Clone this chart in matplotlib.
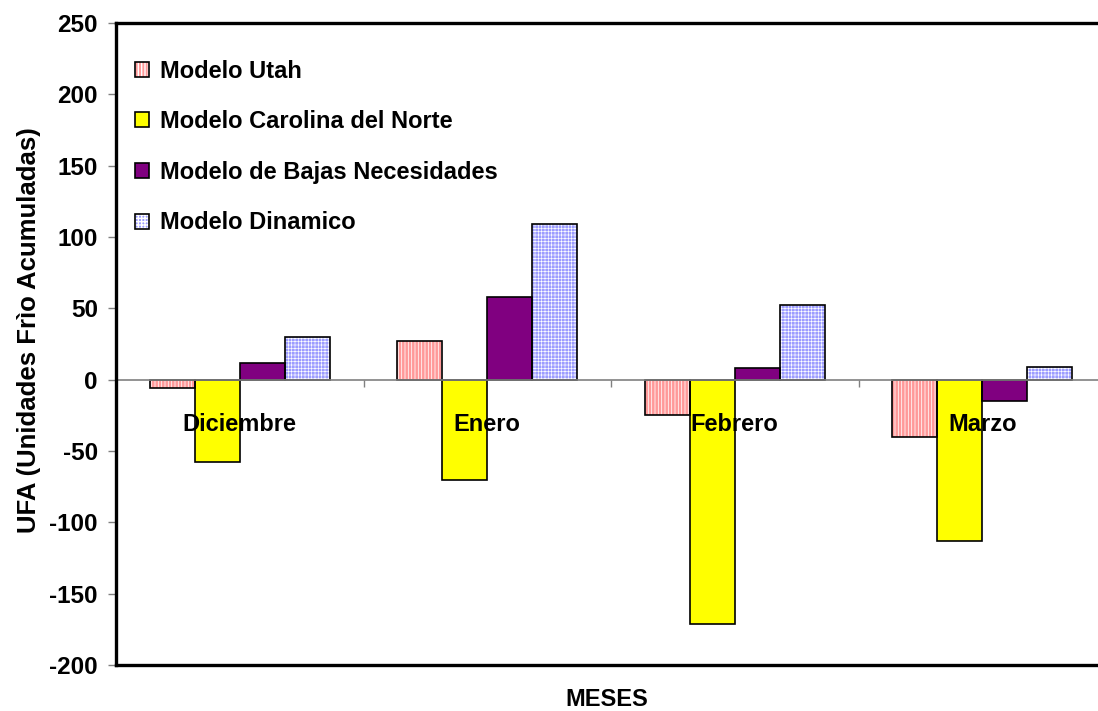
import numpy as np
import matplotlib
matplotlib.use("Agg")
from matplotlib import pyplot as plt
from matplotlib.legend_handler import HandlerTuple

plt.rcParams['font.family'] = ['Liberation Sans', 'DejaVu Sans']
plt.rcParams['font.weight'] = 'bold'
plt.rcParams['axes.unicode_minus'] = False

meses = ['Diciembre', 'Enero', 'Febrero', 'Marzo']
modelos = ['Modelo Utah', 'Modelo Carolina del Norte',
           'Modelo de Bajas Necesidades', 'Modelo Dinamico']
utah = [-6, 27, -25, -40]
carolina = [-58, -70, -171, -113]
bajas = [12, 58, 8, -15]
dinamico = [30, 109, 52, 9]
yticks = [-200, -150, -100, -50, 0, 50, 100, 150, 200, 250]

series = [utah, carolina, bajas, dinamico]
# face colour, hatch, hatch colour, hatch line width
estilos = [('#FF9999', '|||||', 'white', 0.55),
           ('#FFFF00', None, None, 1.0),
           ('#800080', None, None, 1.0),
           ('#9C9CFF', '+++++', 'white', 0.45)]

fig = plt.figure(figsize=(10.98, 7.11), dpi=100)
ax = fig.add_axes([116/1098, 46/711, 990/1098, 642/711])

x = np.arange(len(meses))
w = 0.182
handles = []
for i, (vals, (fc, hatch, hc, hlw)) in enumerate(zip(series, estilos)):
    pos = x + (i - 1.5) * w
    with plt.rc_context({'hatch.linewidth': hlw}):
        if hatch:
            fill = ax.bar(pos, vals, w, color=fc, edgecolor=hc, hatch=hatch,
                          linewidth=0, zorder=1)
        else:
            fill = ax.bar(pos, vals, w, color=fc, linewidth=0, zorder=1)
    edge = ax.bar(pos, vals, w, facecolor='none', edgecolor='black',
                  linewidth=1.2, zorder=1.2)
    handles.append((fill, edge))

ax.set_xlim(-0.5, 3.5)
ax.set_ylim(-200, 250)
ax.set_yticks(yticks)
ax.tick_params(axis='y', length=6, width=1, color='#808080', pad=7, labelsize=17.5)

# category axis crosses at zero
ax.spines['bottom'].set_position(('data', 0))
ax.spines['bottom'].set_color('#808080')
ax.spines['bottom'].set_linewidth(1.2)
ax.spines['bottom'].set_zorder(1.5)
ax.spines['right'].set_visible(False)
ax.spines['left'].set_linewidth(2.4)
ax.spines['top'].set_linewidth(2.4)
ax.axhline(-200, color='black', linewidth=2.4, clip_on=False)

ax.set_xticks(x)
ax.set_xticklabels(meses, fontsize=17)
ax.set_xticks(x[:-1] + 0.5, minor=True)
ax.tick_params(axis='x', which='major', length=0, pad=24)
ax.tick_params(axis='x', which='minor', length=5, width=1, color='#808080')
ax.xaxis.set_zorder(5)

ax.set_xlabel('MESES', fontsize=17, fontweight='bold')
ax.xaxis.set_label_coords(0.496, -0.036)
ax.set_ylabel('UFA (Unidades Frìo Acumuladas)', fontsize=18.5, fontweight='bold')
ax.yaxis.set_label_coords(-0.076, 0.522)

ax.legend(handles, modelos, handler_map={tuple: HandlerTuple(ndivide=1)},
          loc='upper left', bbox_to_anchor=(0.019, 0.943), borderaxespad=0,
          borderpad=0, frameon=False, handlelength=0.6,
          handleheight=0.6, handletextpad=0.45, labelspacing=1.17,
          prop={'weight': 'bold', 'size': 17})

fig.savefig('out.png', dpi=100)
